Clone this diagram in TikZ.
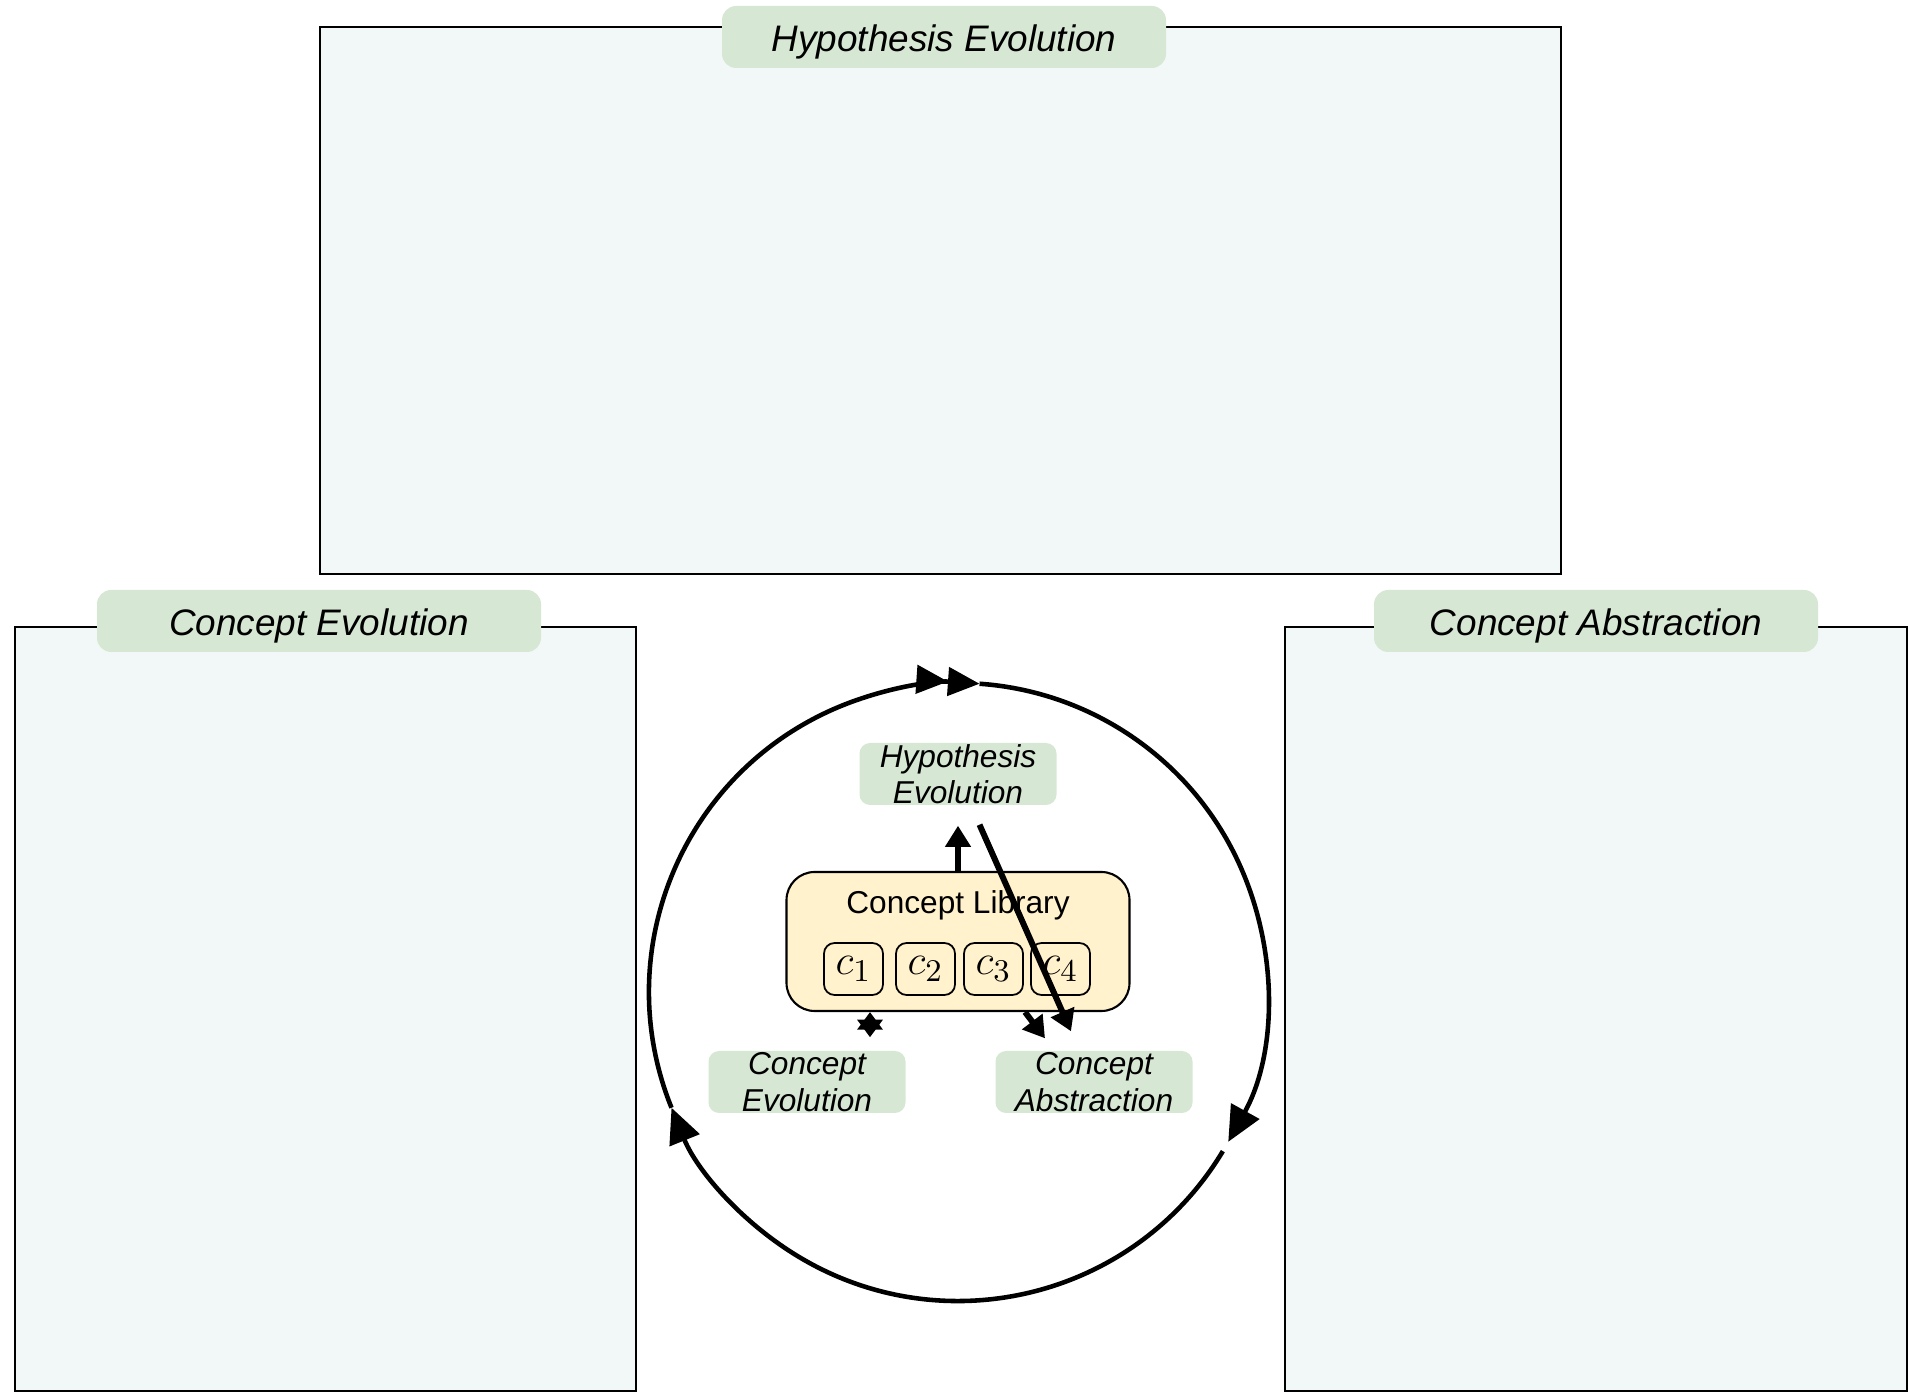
\documentclass[tikz,border=0pt]{standalone}
\usepackage{fontspec}
\setmainfont{Liberation Sans}
\usetikzlibrary{arrows.meta,positioning}
\definecolor{panelfill}{RGB}{242,248,247}
\definecolor{tagfill}{RGB}{214,232,211}
\definecolor{libfill}{RGB}{255,242,204}
\tikzstyle{panel}=[draw,line width=0.6pt,fill=panelfill,inner sep=0pt]
\tikzstyle{tag}=[fill=tagfill,rounded corners=4pt,inner sep=0pt,minimum width=4.44cm,minimum height=0.62cm,text height=10.7pt,text depth=2.2pt,font=\fontsize{10.5}{12}\selectfont\itshape]
\tikzstyle{smalltag}=[fill=tagfill,rounded corners=3pt,inner sep=0pt,align=center,minimum width=1.97cm,minimum height=0.62cm,font=\fontsize{9}{10.4}\selectfont\itshape]
\tikzstyle{library}=[draw,fill=libfill,rounded corners=8pt,line width=0.6pt,minimum width=3.43cm,minimum height=1.39cm]
\tikzstyle{concept}=[draw,rounded corners=3pt,line width=0.5pt,minimum width=0.59cm,minimum height=0.52cm,inner sep=0pt,font=\fontsize{13}{14}\selectfont]
\tikzstyle{cycle}=[line width=1.3pt]
\tikzstyle{bighead}=[-{Triangle[length=10pt,width=9pt]}]
\tikzstyle{flow}=[line width=1.7pt,-{Triangle[length=6pt,width=7pt]}]
\tikzstyle{stub}=[line width=1.5pt,{Triangle[length=5pt,width=7pt]}-{Triangle[length=5pt,width=7pt]}]

\begin{document}
\begin{tikzpicture}
    \useasboundingbox (0,0) rectangle (19.08,13.97);
    % The three panels with their title tags
    \node[panel, minimum width=12.41cm, minimum height=5.47cm] (hypPanel) at (9.405,10.965) {};
    \node[panel, minimum width=6.21cm, minimum height=7.64cm] (evoPanel) at (3.255,3.88) {};
    \node[panel, minimum width=6.22cm, minimum height=7.64cm] (absPanel) at (15.96,3.88) {};
    \node[tag] (hypTag) at (9.44,13.60) {Hypothesis Evolution};
    \node[tag] (evoTag) at (3.19,7.76) {Concept Evolution};
    \node[tag] (absTag) at (15.96,7.76) {Concept Abstraction};

    % The cycle around the library
    \coordinate (cyc) at (9.58,4.05);
    \draw[cycle, -{Triangle[length=9pt,width=8pt]Triangle[length=9pt,width=8pt]}]
        (cyc) ++(202:3.09) arc[start angle=202, end angle=86, radius=3.09cm];
    \draw[cycle, bighead] (cyc) ++(86:3.09) arc[start angle=86, end angle=-29, radius=3.09cm];
    \draw[cycle, bighead] (cyc) ++(-31:3.09) arc[start angle=-31, end angle=-158, radius=3.09cm];

    % Concept library and its entries
    \node[library] (library) at (9.58,4.555) {};
    \node[font=\fontsize{9}{10.8}\selectfont] (libTitle) at (9.58,4.92) {Concept Library};
    \foreach \x/\i in {8.535/1, 9.255/2, 9.935/3, 10.605/4}
        \node[concept] (c\i) at (\x,4.28) {$c_\i$};

    % Steps of the cycle
    \node[smalltag] (hypSmall) at (9.58,6.23) {Hypothesis\\Evolution};
    \node[smalltag] (evoSmall) at (8.07,3.15) {Concept\\Evolution};
    \node[smalltag] (absSmall) at (10.94,3.15) {Concept\\Abstraction};

    \draw[flow] (library.north) -- ([yshift=-0.2cm]hypSmall.south);
    \draw[flow] ([xshift=0.215cm,yshift=-0.19cm]hypSmall.south) -- ([xshift=-0.23cm,yshift=0.19cm]absSmall.north);
    \draw[stub] ([xshift=-0.88cm]library.south) -- ([xshift=0.63cm,yshift=0.13cm]evoSmall.north);
    \draw[flow] ([xshift=0.67cm]library.south) -- ([xshift=-0.49cm,yshift=0.12cm]absSmall.north);
\end{tikzpicture}
\end{document}
